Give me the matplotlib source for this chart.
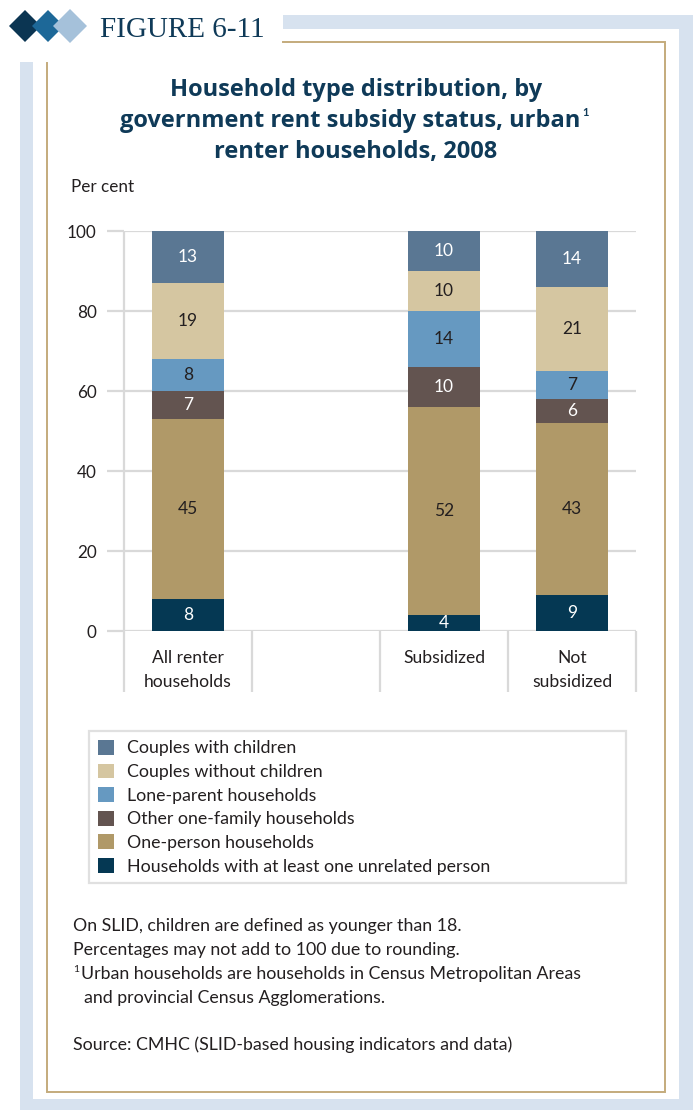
import matplotlib
matplotlib.use("Agg")
import matplotlib.pyplot as plt
from matplotlib.patches import Rectangle, Polygon, Patch

# ---------------- data ----------------
categories = ["All renter\nhouseholds", "Subsidized", "Not\nsubsidized"]
series_names = [
    "Households with at least one unrelated person",
    "One-person households",
    "Other one-family households",
    "Lone-parent households",
    "Couples without children",
    "Couples with children",
]
unrelated = [8, 4, 9]
one_person = [45, 52, 43]
other_family = [7, 10, 6]
lone_parent = [8, 14, 7]
couples_without = [19, 10, 21]
couples_with = [13, 10, 14]
yticks = [0, 20, 40, 60, 80, 100]

series_values = [unrelated, one_person, other_family, lone_parent,
                 couples_without, couples_with]
colors = ["#053853", "#B09968", "#635450", "#6699C1", "#D5C6A1", "#5A7793"]
label_colors = ["white", "#231F20", "white", "#231F20", "#231F20", "white"]

# ---------------- figure ----------------
W, H, DPI = 696, 1110, 100
SANS = ["Lato", "DejaVu Sans"]
plt.rcParams["font.family"] = SANS
TXT = "#231F20"
NAVY = "#0F3A58"
GRID = "#D9D9D9"
FS = 12.8

fig = plt.figure(figsize=(W / DPI, H / DPI), dpi=DPI)
bg = fig.add_axes([0, 0, 1, 1], zorder=0)
bg.set_xlim(0, W)
bg.set_ylim(H, 0)
bg.axis("off")

# frame
FB = "#D7E2EF"
GOLD = "#C4AB7C"
for (x0, y0, w, h) in [(283, 15, 410, 14), (679, 15, 14, H - 15),
                       (20, 62, 13, H - 62), (20, 1099, 673, 11)]:
    bg.add_patch(Rectangle((x0, y0), w, h, color=FB, lw=0))
bg.plot([283, 665, 665, 47, 47], [42, 42, 1092, 1092, 63], color=GOLD, lw=1.4,
        solid_joinstyle="miter")

# diamonds
for cx, hs, c in [(25, 16, "#0B3552"), (48, 16, "#1D6898"), (70, 17, "#A5C1DA")]:
    cy = 26
    bg.add_patch(Polygon([(cx - hs, cy), (cx, cy - hs), (cx + hs, cy), (cx, cy + hs)],
                         closed=True, color=c, lw=0))
bg.text(100, 37, "FIGURE 6-11", family=["Liberation Serif"], fontsize=21,
        color=NAVY, ha="left", va="baseline")

# title
tkw = dict(fontsize=17, fontweight="bold", family=["Open Sans", "DejaVu Sans"],
           color=NAVY, ha="center", va="baseline")
bg.text(356, 96, "Household type distribution, by", **tkw)
t2 = bg.text(350, 127, "government rent subsidy status, urban", **tkw)
bg.text(356, 158, "renter households, 2008", **tkw)

fig.canvas.draw()
bb = t2.get_window_extent()
bg.text(bb.x1 + 2, 116, "1", fontsize=8, fontweight="bold", color=NAVY,
        ha="left", va="baseline")

bg.text(71, 187, "Per cent", fontsize=12.3, color=TXT, ha="left", va="center")

# ---------------- chart ----------------
ax_l, ax_r, ax_t, ax_b = 124, 636, 231, 631
ax = fig.add_axes([ax_l / W, 1 - ax_b / H, (ax_r - ax_l) / W, (ax_b - ax_t) / H],
                  zorder=2)
ax.patch.set_alpha(0)
xpos = [0, 2, 3]
bottoms = [0, 0, 0]
for vals, name, col, lc in zip(series_values, series_names, colors, label_colors):
    bars = ax.bar(xpos, vals, width=0.5625, bottom=bottoms, color=col,
                  label=name, zorder=3, lw=0)
    ax.bar_label(bars, labels=[str(v) for v in vals], label_type="center",
                 color=lc, fontsize=12.5, zorder=4)
    bottoms = [b + v for b, v in zip(bottoms, vals)]

ax.set_xlim(-0.5, 3.5)
ax.set_ylim(0, 100)
ax.set_yticks(yticks)
ax.set_yticklabels([str(v) for v in yticks], fontsize=12.3, color=TXT)
ax.tick_params(axis="y", length=12.2, width=1.6, color=GRID, pad=7.5)
ax.set_xticks(xpos)
ax.set_xticklabels(categories, fontsize=12.6, color=TXT, linespacing=1.58)
ax.tick_params(axis="x", length=0, pad=14)
for s in ax.spines.values():
    s.set_visible(False)
ax.grid(axis="y", color=GRID, lw=1.6, zorder=0)
ax.set_axisbelow(True)
ax.vlines([-0.5, 0.5, 1.5, 2.5, 3.5], -15.25, 0, color=GRID, lw=1.6,
          clip_on=False, zorder=1)
ax.vlines([-0.5], 0, 100, color=GRID, lw=1.6, clip_on=False, zorder=1)

# legend
handles = [Patch(facecolor=c, edgecolor="none", label=n)
           for n, c in zip(series_names, colors)][::-1]
leg = fig.legend(handles=handles, loc="upper left",
                 bbox_to_anchor=(89 / W, 1 - 731 / H, (626 - 89) / W, 0.0),
                 mode="expand", fontsize=FS, frameon=True, fancybox=False,
                 handlelength=0.9, handleheight=0.9, handletextpad=0.75,
                 labelspacing=0.4, borderpad=0.5, borderaxespad=0,
                 labelcolor=TXT)
leg.get_frame().set_edgecolor(GRID)
leg.get_frame().set_linewidth(1.6)

# notes
note_kw = dict(fontsize=FS, color=TXT, ha="left", va="center")
bg.text(73, 926, "On SLID, children are defined as younger than 18.", **note_kw)
bg.text(73, 950, "Percentages may not add to 100 due to rounding.", **note_kw)
bg.text(73, 969, "1", fontsize=7.5, color=TXT, ha="left", va="center")
bg.text(81, 974, "Urban households are households in Census Metropolitan Areas", **note_kw)
bg.text(84, 998, "and provincial Census Agglomerations.", **note_kw)
bg.text(73, 1045, "Source: CMHC (SLID-based housing indicators and data)", **note_kw)

fig.savefig("out.png", dpi=DPI)
